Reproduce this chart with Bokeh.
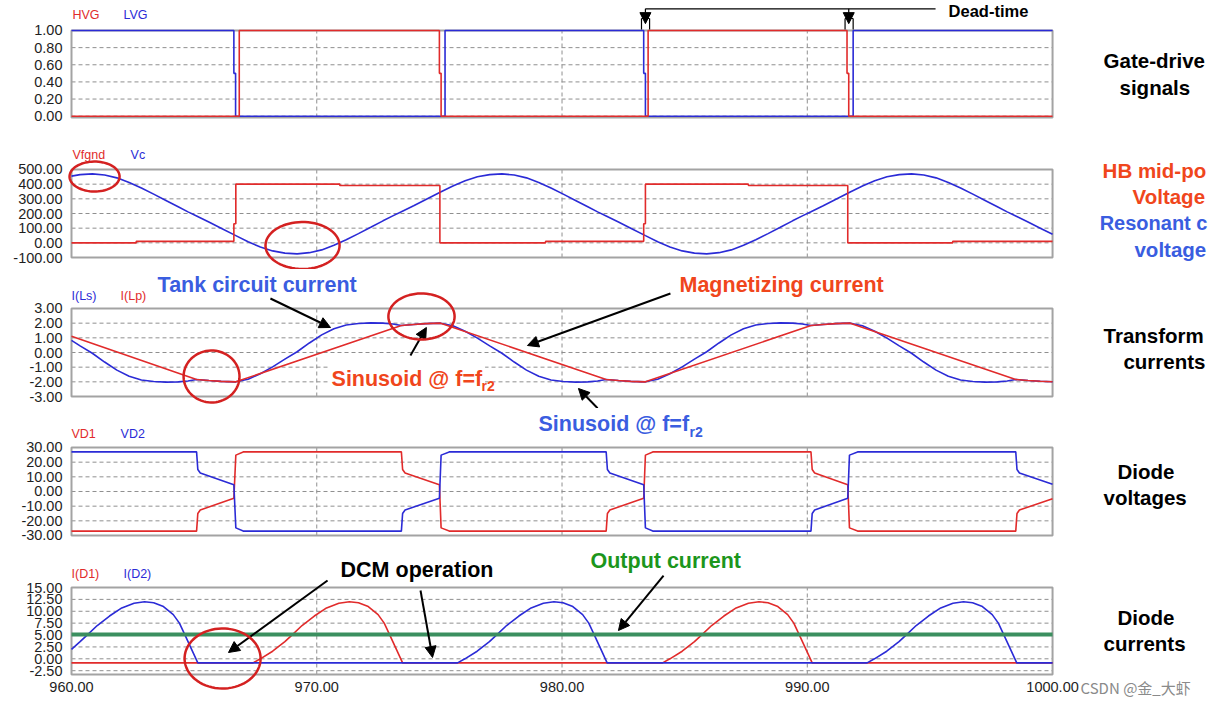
import numpy as np
from bokeh.plotting import figure
from bokeh.models import (Range1d, FixedTicker, PrintfTickFormatter, Label, Arrow,
                          NormalHead, PolyAnnotation, LinearAxis)
from bokeh.layouts import column
from bokeh.embed import file_html
from bokeh.resources import INLINE

# ---------------- data (time in microseconds) ----------------
X_TICKS = [960, 970, 980, 990, 1000]
X_GRID = [970, 980, 990]

# Gate-drive signals
T_HVG = [960, 966.84, 966.84, 975.00, 975.00, 975.07, 975.07, 983.51, 983.51, 991.62, 991.62, 991.69, 991.69, 1000]
HVG = [0, 0, 1, 1, 0.5, 0.5, 0, 0, 1, 1, 0.5, 0.5, 0, 0]
T_LVG = [960, 966.62, 966.62, 966.69, 966.69, 975.23, 975.23, 983.33, 983.33, 983.40, 983.40, 991.87, 991.87, 1000]
LVG = [1, 1, 0.5, 0.5, 0, 0, 1, 1, 0.5, 0.5, 0, 0, 1, 1]

# HB mid-point voltage
T_VF = [960, 962.64, 962.64, 966.62, 966.62, 966.70, 966.70, 970.94, 970.94, 975.02, 975.02, 979.33,
        979.33, 983.33, 983.33, 983.40, 983.40, 987.60, 987.60, 991.65, 991.65, 995.93, 995.93, 1000]
VF = [0, 0, 10, 10, 130, 130, 400, 400, 391, 391, 0, 0, 10, 10, 130, 130, 400, 400, 391, 391, 0, 0, 10, 10]

# Resonant capacitor voltage
T_VC = [960, 960.35, 960.85, 961.35, 961.85, 962.35, 962.85, 963.35, 963.85, 964.35, 964.75, 965.1,
        965.6, 966.1, 966.7, 967.2, 967.7, 968.2, 968.7, 969.2, 969.7, 970.2, 970.7, 971.2, 971.7,
        972.2, 972.7, 973.1, 973.45, 973.95, 974.45, 975.05, 975.55, 976.05, 976.55, 977.05, 977.55,
        978.05, 978.55, 979.05, 979.55, 980.05, 980.55, 981.05, 981.45, 981.8, 982.3, 982.8, 983.4,
        983.9, 984.4, 984.9, 985.4, 985.9, 986.4, 986.9, 987.4, 987.9, 988.4, 988.9, 989.4, 989.8,
        990.15, 990.65, 991.15, 991.75, 992.25, 992.75, 993.25, 993.75, 994.25, 994.75, 995.25,
        995.75, 996.25, 996.75, 997.25, 997.75, 998.15, 998.5, 999.0, 999.5, 1000]
VC = [455, 465, 470, 462, 443, 412, 374, 332, 289, 246, 211, 183,
      142, 100, 49, 7, -28, -55, -70, -75, -67, -48, -17, 21, 63,
      106, 150, 184, 212, 253, 295, 347, 388, 423, 450, 465, 470,
      462, 443, 412, 374, 332, 289, 246, 211, 183, 142, 100, 49,
      7, -28, -55, -70, -75, -67, -48, -17, 21, 63, 106, 150, 184,
      212, 253, 295, 347, 388, 423, 450, 465, 470, 462, 443,
      412, 374, 332, 289, 246, 211, 183, 142, 100, 58]

# Tank (Ls) current
T_LS = T_VC
ILS = [0.83, 0.45, -0.05, -0.65, -1.2, -1.62, -1.88, -1.98, -2.02, -2.0, -1.94, -1.84,
       -1.91, -1.97, -2.0, -1.82, -1.45, -0.98, -0.45, 0.05, 0.65, 1.2, 1.62, 1.88, 1.98,
       2.02, 2.0, 1.94, 1.84, 1.91, 1.97, 2.0, 1.82, 1.45, 0.98, 0.45, -0.05,
       -0.65, -1.2, -1.62, -1.88, -1.98, -2.02, -2.0, -1.94, -1.84, -1.91, -1.97, -2.0,
       -1.82, -1.45, -0.98, -0.45, 0.05, 0.65, 1.2, 1.62, 1.88, 1.98, 2.02, 2.0, 1.94,
       1.84, 1.91, 1.97, 2.0, 1.82, 1.45, 0.98, 0.45, -0.05, -0.65, -1.2,
       -1.62, -1.88, -1.98, -2.02, -2.0, -1.94, -1.84, -1.91, -1.96, -1.99]

# Magnetizing (Lp) current
T_LP = [960, 965.1, 965.6, 966.1, 966.7, 973.45, 973.95, 974.45, 975.05, 981.8, 982.3, 982.8, 983.4,
        990.15, 990.65, 991.15, 991.75, 998.5, 999.0, 999.5, 1000]
ILP = [1.1, -1.84, -1.91, -1.97, -2.0, 1.84, 1.91, 1.97, 2.0, -1.84, -1.91, -1.97, -2.0,
       1.84, 1.91, 1.97, 2.0, -1.84, -1.91, -1.96, -1.99]

# Diode voltages
T_VD = [960, 965.1, 965.15, 965.25, 966.62, 966.7, 967.0, 973.45, 973.5, 973.6, 975.0, 975.07, 975.4,
        981.8, 981.85, 981.95, 983.33, 983.4, 983.7, 990.15, 990.2, 990.3, 991.65, 991.72, 992.05,
        998.5, 998.55, 998.65, 1000]
VD2 = [27, 27, 15, 12.6, 4.6, -24.8, -27, -27, -15, -12.6, -4.6, 24.8, 27,
       27, 15, 12.6, 4.6, -24.8, -27, -27, -15, -12.6, -4.6, 24.8, 27,
       27, 15, 12.6, 4.9]
VD1 = [-27, -27, -15, -12.6, -4.6, 24.8, 27, 27, 15, 12.6, 4.6, -24.8, -27,
       -27, -15, -12.6, -4.6, 24.8, 27, 27, 15, 12.6, 4.6, -24.8, -27,
       -27, -15, -12.6, -4.9]

# Diode currents
T_ID1 = [960, 967.4, 967.7, 968.2, 968.7, 969.03, 969.4, 969.9, 970.4, 970.9, 971.33, 971.7, 972.1,
         972.5, 972.75, 972.96, 973.2, 973.5, 984.1, 984.4, 984.9, 985.4, 985.73, 986.1, 986.6,
         987.1, 987.6, 988.03, 988.4, 988.8, 989.2, 989.45, 989.66, 989.9, 990.2, 1000]
ID1 = [-0.85, -0.85, 0.0, 1.6, 3.6, 5.2, 7.0, 9.0, 10.7, 11.7, 12.0, 11.8, 11.0,
       9.3, 7.5, 5.2, 2.5, -0.85, -0.85, 0.0, 1.6, 3.6, 5.2, 7.0, 9.0,
       10.7, 11.7, 12.0, 11.8, 11.0, 9.3, 7.5, 5.2, 2.5, -0.85, -0.85]
T_ID2 = [960, 960.35, 960.68, 961.05, 961.55, 962.05, 962.55, 962.98, 963.35, 963.75, 964.15, 964.4,
         964.61, 964.85, 965.15, 975.74, 976.04, 976.54, 977.04, 977.37, 977.74, 978.24, 978.74,
         979.24, 979.67, 980.04, 980.44, 980.84, 981.09, 981.3, 981.54, 981.84, 992.44, 992.74,
         993.24, 993.74, 994.07, 994.44, 994.94, 995.44, 995.94, 996.37, 996.74, 997.14, 997.54,
         997.79, 998.0, 998.24, 998.54, 1000]
ID2 = [2.0, 3.6, 5.2, 7.0, 9.0, 10.7, 11.7, 12.0, 11.8, 11.0, 9.3, 7.5,
       5.2, 2.5, -0.85, -0.85, 0.0, 1.6, 3.6, 5.2, 7.0, 9.0, 10.7,
       11.7, 12.0, 11.8, 11.0, 9.3, 7.5, 5.2, 2.5, -0.85, -0.85, 0.0,
       1.6, 3.6, 5.2, 7.0, 9.0, 10.7, 11.7, 12.0, 11.8, 11.0, 9.3,
       7.5, 5.2, 2.5, -0.85, -0.85]
T_IOUT = [960, 1000]
IOUT = [5.1, 5.1]

# axis ticks
Y1_TICKS = [0, 0.2, 0.4, 0.6, 0.8, 1.0]
Y2_TICKS = [-100, 0, 100, 200, 300, 400, 500]
Y3_TICKS = [-3, -2, -1, 0, 1, 2, 3]
Y4_TICKS = [-30, -20, -10, 0, 10, 20, 30]
Y5_TICKS = [-2.5, 0, 2.5, 5, 7.5, 10, 12.5, 15]

# ---------------- styling ----------------
FONT = "Liberation Sans"
RED = "#e12b2b"
BLUE = "#2b2bd6"
GREEN = "#3b8f5f"
TXT_BLUE = "#3a5de0"
TXT_RED = "#f0461c"
TXT_GREEN = "#1c961c"
INK = "#d42121"
GRID = "#8f8f8f"
BOX = "#a3a3a3"

# x range covers the tick-label margin, the plot box (960..1000) and the label column
xr = Range1d(957.105, 1006.44)


def style_axis(ax, standoff):
    ax.formatter = PrintfTickFormatter(format="%.2f")
    ax.axis_line_color = None
    ax.major_tick_line_color = None
    ax.minor_tick_line_color = None
    ax.major_tick_out = 0
    ax.major_tick_in = 0
    ax.major_label_text_font = FONT
    ax.major_label_text_font_size = "14.5px"
    ax.major_label_text_color = "#1e1e1e"
    ax.major_label_standoff = standoff


def panel(height, y_lo, y_hi, box_lo, box_hi, ticks):
    p = figure(x_range=xr, y_range=Range1d(y_lo, y_hi), frame_width=1210, frame_height=height,
               min_border_left=0, min_border_right=0, min_border_top=0, min_border_bottom=0,
               x_axis_type=None, y_axis_type=None, output_backend="svg", toolbar_location=None)
    p.background_fill_color = "white"
    p.border_fill_color = "white"
    p.outline_line_color = None
    yaxis = LinearAxis(ticker=FixedTicker(ticks=ticks), fixed_location=X_TICKS[0])
    style_axis(yaxis, 9)
    p.add_layout(yaxis, "left")
    inner = [t for t in ticks if box_lo < t < box_hi]
    p.segment(x0=[X_TICKS[0]] * len(inner), x1=[X_TICKS[-1]] * len(inner), y0=inner, y1=inner,
              line_color=GRID, line_dash="4 3", line_width=1)
    p.segment(x0=X_GRID, x1=X_GRID, y0=[box_lo] * len(X_GRID), y1=[box_hi] * len(X_GRID),
              line_color=GRID, line_dash="4 3", line_width=1)
    p.quad(left=[X_TICKS[0]], right=[X_TICKS[-1]], bottom=[box_lo], top=[box_hi],
           fill_color=None, line_color=BOX, line_width=2)
    return p


def label(p, x, y, text, size="12.5px", color="black", bold=False, align="left", bg=None):
    kw = dict(x=x, y=y, text=text, text_font=FONT, text_font_size=size, text_color=color,
              text_font_style="bold" if bold else "normal", text_align=align,
              text_baseline="middle")
    if bg:
        kw["background_fill_color"] = bg
        kw["padding"] = 3
    p.add_layout(Label(**kw))


def arrow(p, x0, y0, x1, y1, head=True, width=2):
    end = NormalHead(size=11, fill_color="black", line_color="black", line_width=1) if head else None
    p.add_layout(Arrow(end=end, x_start=x0, y_start=y0, x_end=x1, y_end=y1,
                       line_color="black", line_width=width))


def loop(p, cx, cy, rx, ry):
    th = np.linspace(0, 2 * np.pi, 72)
    p.add_layout(PolyAnnotation(xs=list(cx + rx * np.cos(th)), ys=list(cy + ry * np.sin(th)),
                                line_color=INK, line_width=2.5, line_alpha=1,
                                fill_alpha=0, fill_color=None))


BIG = "21.5px"
SIDE = "20.5px"

# ---- panel 1: gate drive ----
p1 = panel(135, -0.2252, 1.350, -0.015, 1.0, Y1_TICKS)
p1.line(T_LVG, LVG, color=BLUE, line_width=1.6)
p1.line(T_HVG, HVG, color=RED, line_width=1.6)
label(p1, 960.04, 1.175, "HVG", color=RED)
label(p1, 962.12, 1.175, "LVG", color=BLUE)
arrow(p1, 983.40, 1.253, 995.23, 1.253, head=False, width=1.2)
arrow(p1, 983.40, 1.253, 983.40, 1.08, width=1.2)
arrow(p1, 991.69, 1.253, 991.69, 1.08, width=1.2)
for a, b in [(983.24, 983.57), (991.54, 991.87)]:
    arrow(p1, a, 1.012, a, 1.14, head=False, width=1.2)
    arrow(p1, a, 1.14, b, 1.14, head=False, width=1.2)
    arrow(p1, b, 1.14, b, 1.012, head=False, width=1.2)
label(p1, 995.76, 1.228, "Dead-time", size="16.5px", bold=True)
label(p1, 1002.08, 0.65, "Gate-drive", size=SIDE, bold=True)
label(p1, 1002.73, 0.335, "signals", size=SIDE, bold=True)

# ---- panel 2: HB mid-point / resonant cap voltage ----
p2 = panel(134, -181.8, 731.8, -100, 500, Y2_TICKS)
p2.line(T_VC, VC, color=BLUE, line_width=1.6)
p2.line(T_VF, VF, color=RED, line_width=1.6)
label(p2, 960.04, 595.5, "Vfgnd", color=RED)
label(p2, 962.41, 595.5, "Vc", color=BLUE)
loop(p2, 960.94, 452, 1.02, 102)
loop(p2, 969.42, -18.2, 1.51, 160)
label(p2, 1002.04, 493, "HB mid-po", size=SIDE, bold=True, color=TXT_RED)
label(p2, 1003.26, 316, "Voltage", size=SIDE, bold=True, color=TXT_RED)
label(p2, 1001.92, 132, "Resonant c", size="20px", bold=True, color=TXT_BLUE)
label(p2, 1003.34, -45, "voltage", size=SIDE, bold=True, color=TXT_BLUE)

# ---- panel 3: transformer currents ----
p3 = panel(139, -3.818, 5.659, -3, 3, Y3_TICKS)
p3.line(T_LS, ILS, color=BLUE, line_width=1.6)
p3.line(T_LP, ILP, color=RED, line_width=1.6)
label(p3, 960.0, 3.886, "I(Ls)", color=BLUE)
label(p3, 962.0, 3.886, "I(Lp)", color=RED)
label(p3, 963.51, 4.636, "Tank circuit current", size=BIG, bold=True, color=TXT_BLUE)
label(p3, 984.79, 4.636, "Magnetizing current", size=BIG, bold=True, color=TXT_RED)
arrow(p3, 968.11, 3.682, 970.56, 1.705)
arrow(p3, 984.42, 4.023, 978.59, 0.477)
arrow(p3, 981.45, -3.80, 980.67, -2.455)
label(p3, 970.48, -1.773, "Sinusoid @ f=f", size=BIG, bold=True, color=TXT_RED, bg="white")
label(p3, 976.72, -2.318, "r2", size="14px", bold=True, color=TXT_RED)
arrow(p3, 973.82, -0.204, 974.47, 1.705)
loop(p3, 965.71, -1.636, 1.14, 1.77)
loop(p3, 974.27, 2.455, 1.35, 1.57)
label(p3, 1002.08, 1.159, "Transform", size=SIDE, bold=True)
label(p3, 1002.89, -0.614, "currents", size=SIDE, bold=True)

# ---- panel 4: diode voltages ----
p4 = panel(137, -36.82, 56.59, -30, 30, Y4_TICKS)
p4.line(T_VD, VD1, color=RED, line_width=1.6)
p4.line(T_VD, VD2, color=BLUE, line_width=1.6)
label(p4, 960.0, 39.5, "VD1", color=RED)
label(p4, 962.0, 39.5, "VD2", color=BLUE)
label(p4, 979.04, 45.7, "Sinusoid @ f=f", size=BIG, bold=True, color=TXT_BLUE)
label(p4, 985.20, 40.3, "r2", size="14px", bold=True, color=TXT_BLUE)
label(p4, 1002.65, 13.64, "Diode", size=SIDE, bold=True)
label(p4, 1002.08, -4.09, "voltages", size=SIDE, bold=True)

# ---- panel 5: diode currents ----
p5 = panel(157, -9.19, 23.835, -3.3, 15, Y5_TICKS)
xaxis = LinearAxis(ticker=FixedTicker(ticks=X_TICKS), fixed_location=-3.3)
style_axis(xaxis, 8)
p5.add_layout(xaxis, "below")
p5.line(T_ID1, ID1, color=RED, line_width=1.6)
p5.line(T_ID2, ID2, color=BLUE, line_width=1.6)
p5.line(T_IOUT, IOUT, color=GREEN, line_width=4)
label(p5, 960.0, 17.94, "I(D1)", color=RED)
label(p5, 962.12, 17.94, "I(D2)", color=BLUE)
label(p5, 970.97, 18.58, "DCM operation", size=BIG, bold=True)
label(p5, 981.16, 20.6, "Output current", size=BIG, bold=True, color=TXT_GREEN)
arrow(p5, 970.44, 16.47, 966.40, 1.33)
arrow(p5, 974.23, 14.37, 974.72, 0.28)
arrow(p5, 984.14, 17.52, 982.30, 5.95)
loop(p5, 966.16, 0.065, 1.55, 6.31)
label(p5, 1002.65, 8.69, "Diode", size=SIDE, bold=True)
label(p5, 1002.08, 3.12, "currents", size=SIDE, bold=True)
p5.add_layout(Label(x=1001.14, y=-6.03, text="CSDN @金_大虾", text_font="Noto Sans CJK SC",
                    text_font_size="15px", text_color="#8a8a8a", text_baseline="middle"))

layout = column(p1, p2, p3, p4, p5, spacing=0)
open("out.html", "w").write(file_html(layout, INLINE))
